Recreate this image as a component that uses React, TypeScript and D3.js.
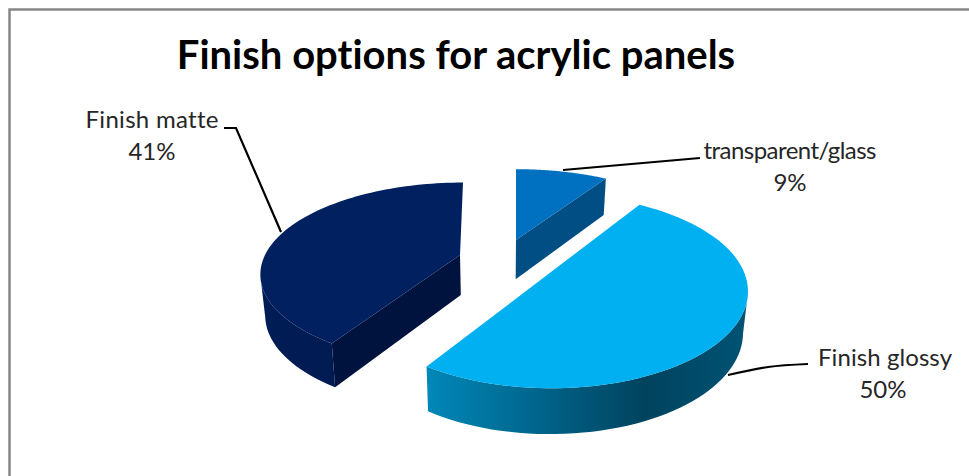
import React from "react";
import * as d3 from "d3";

// Finish shares, in the order the pie runs clockwise from twelve o'clock.
const finishNames = ["transparent/glass", "Finish glossy", "Finish matte"];
const finishShares = [9, 50, 41];

const titleText = "Finish options for acrylic panels";

// Colours of each wedge: top face, cut wall and the rim gradient stops.
const topColors = ["#0070c0", "#00b0f0", "#002060"];
const cutColors = ["#004e84", null, "#00133f"];
const rimStops = [
  [[0, "#004e84"], [1, "#004e84"]],
  [[0, "#0088b9"], [0.68, "#00435e"], [1, "#005374"]],
  [[0, "#001c56"], [1, "#001a4c"]],
] as [number, string][][];

// Screen position of each exploded wedge's tip, its radii and its lean to the vanishing point.
const tipX = [516, 551, 460];
const tipY = [240, 272, 255];
const radiusX = [196, 193, 195];
const radiusY = [85, 93, 87];
const leanX = [0, 0, 3];

const PERSPECTIVE = 0.2;
const PLINTH_CX = 500;

// Leader lines run from the wedge out to the text.
const leaderPaths: [number, number][][] = [
  [[563, 170], [700, 158]],
  [[728, 375], [768, 367], [808, 364]],
  [[281, 232], [236, 128], [224, 128]],
];

const labelX = [790, 885, 152];
const labelY = [159, 366, 128];
const labelWidth = [173, 134, 133];

const FONT = "Lato, 'Open Sans', sans-serif";

type Pt = [number, number];

// Pie angle to screen: a foreshortened ellipse, with the far side shrunk.
const project = (i: number, a: number): Pt => {
  const s = 1 / (1 + PERSPECTIVE * Math.cos(a));
  return [
    tipX[i] + radiusX[i] * Math.sin(a) * s + leanX[i] * Math.cos(a),
    tipY[i] - radiusY[i] * Math.cos(a) * s,
  ];
};

// The underside of the pie: slightly narrower and lower with distance.
const lower = ([x, y]: Pt): Pt => [
  PLINTH_CX + (x - PLINTH_CX) * 0.98,
  y + 36.5 + 0.045 * (y - 180),
];

const outline = d3.line<Pt>().curve(d3.curveLinear);
const leader = d3.line<Pt>().curve(d3.curveMonotoneX);

export default function App() {
  const arcs = d3
    .pie<number>()
    .sort(null)
    .startAngle(0)
    .endAngle(2 * Math.PI)(finishShares);

  const percent = (v: number) => `${d3.format("d")(v)}%`;

  return (
    <svg
      width={969}
      height={476}
      viewBox="0 0 969 476"
      style={{
        position: "absolute",
        left: 0,
        top: 0,
        display: "block",
        background: "#fff",
        fontVariantLigatures: "none",
      }}
    >
      <defs>
        {arcs.map((d, i) => {
          const xs = d3
            .range(0, 41)
            .map((k) => project(i, d.startAngle + ((d.endAngle - d.startAngle) * k) / 40)[0]);
          const x0 = d3.min(xs) as number;
          const x1 = d3.max(xs) as number;
          return (
            <linearGradient
              key={i}
              id={`rim-${i}`}
              gradientUnits="userSpaceOnUse"
              x1={x0}
              x2={x1}
              y1={0}
              y2={0}
            >
              {rimStops[i].map(([o, c]) => (
                <stop key={o} offset={o} stopColor={c} />
              ))}
            </linearGradient>
          );
        })}
      </defs>

      {/* chart area border; its right and bottom edges fall outside the frame */}
      <rect x={9.5} y={9.5} width={1100} height={700} fill="#fff" stroke="#868686" strokeWidth={2.5} />

      <text
        x={456}
        y={69}
        textAnchor="middle"
        fontFamily={FONT}
        fontWeight={700}
        fontSize={40}
        fill="#000"
      >
        {titleText}
      </text>

      {arcs.map((d, i) => {
        const angles = d3
          .range(0, 81)
          .map((k) => d.startAngle + ((d.endAngle - d.startAngle) * k) / 80);
        const rim = angles.map((a) => project(i, a));
        // Only the part of the rim turned towards the viewer shows a wall.
        const front = angles
          .filter((a) => Math.cos(a) < -PERSPECTIVE)
          .map((a) => project(i, a));
        const tip: Pt = [tipX[i], tipY[i]];
        const rimWall = [...front, ...front.map(lower).reverse()];
        const cutEdge = i === 2 ? rim[0] : rim[rim.length - 1];
        const cutWall: Pt[] = [tip, cutEdge, lower(cutEdge), lower(tip)];
        return (
          <g key={finishNames[i]}>
            {front.length > 0 && <path d={outline(rimWall) as string} fill={`url(#rim-${i})`} />}
            {cutColors[i] && <path d={outline(cutWall) as string} fill={cutColors[i] as string} />}
            <path d={outline([tip, ...rim]) + "Z"} fill={topColors[i]} />
          </g>
        );
      })}

      {leaderPaths.map((p, i) => (
        <path
          key={i}
          d={(i === 1 ? leader(p) : outline(p)) as string}
          fill="none"
          stroke="#000"
          strokeWidth={2.2}
        />
      ))}

      {finishNames.map((name, i) => (
        <text
          key={name}
          textAnchor="middle"
          fontFamily={FONT}
          fontSize={24}
          fill="#262626"
        >
          <tspan x={labelX[i]} y={labelY[i]} textLength={labelWidth[i]} lengthAdjust="spacing">
            {name}
          </tspan>
          <tspan x={labelX[i] - (i === 1 ? 2 : 0)} y={labelY[i] + 31.5}>
            {percent(finishShares[i])}
          </tspan>
        </text>
      ))}
    </svg>
  );
}
